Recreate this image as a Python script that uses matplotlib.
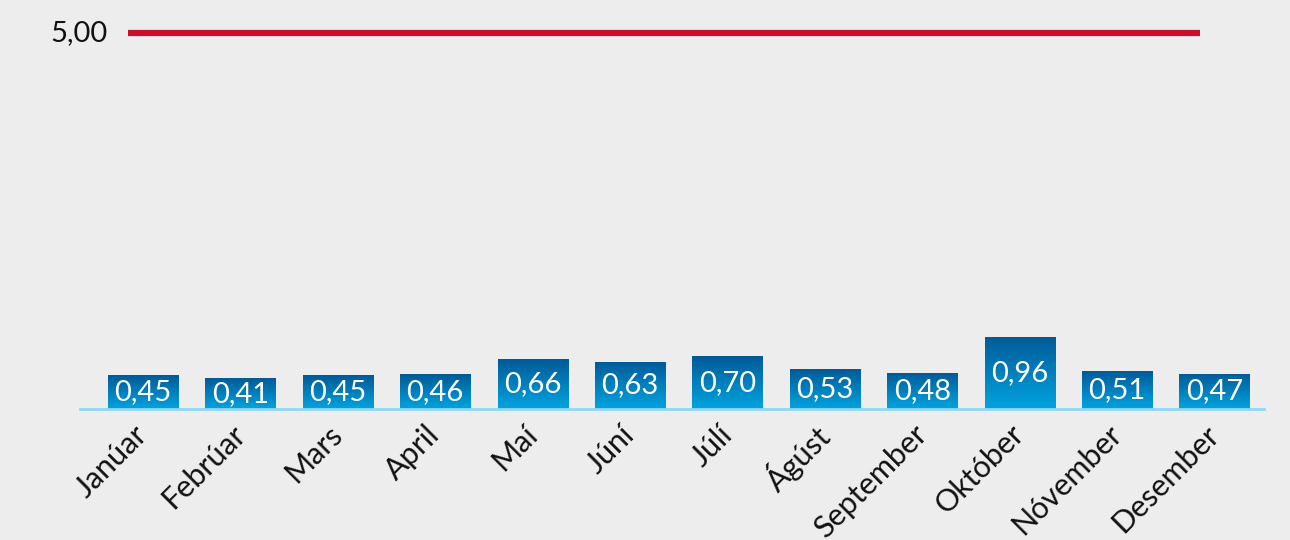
import matplotlib
matplotlib.use("Agg")
import matplotlib.pyplot as plt
import numpy as np
from matplotlib.colors import LinearSegmentedColormap

months = ["Janúar", "Febrúar", "Mars", "April", "Maí", "Júní", "Júlí",
          "Ágúst", "September", "Október", "Nóvember", "Desember"]
values = [0.45, 0.41, 0.45, 0.46, 0.66, 0.63, 0.70, 0.53, 0.48, 0.96, 0.51, 0.47]
limit = 5.00

plt.rcParams['font.family'] = ['Lato', 'DejaVu Sans']
BG = "#ededed"

fig = plt.figure(figsize=(12.9, 5.4), dpi=100, facecolor=BG)
W, H = 1290, 540
ax = fig.add_axes([80 / W, (540 - 409) / H, (1264 - 80) / W, (409 - 33) / H])
ax.set_facecolor(BG)

x = np.arange(len(months))
bars = ax.bar(x, values, width=0.72, color="none", edgecolor="none", zorder=2)

cmap = LinearSegmentedColormap.from_list("g", ["#00a4e0", "#005a97"])
grad = np.linspace(0, 1, 256).reshape(-1, 1)
for b, v in zip(bars, values):
    x0 = b.get_x()
    w = b.get_width()
    im = ax.imshow(grad, cmap=cmap, origin="lower", aspect="auto",
                   extent=[x0, x0 + w, 0, v], zorder=2)
    im.set_clip_path(b)
    ax.text(x0 + w / 2, v / 2, f"{v:.2f}".replace(".", ","), color="white",
            ha="center", va="center", fontsize=21, zorder=3)

ax.set_xlim(-0.647, 11.508)
ax.set_ylim(0, limit)

# limit line
ax.plot([-0.154, 10.85], [limit, limit], color="#c8102e", lw=4.5,
        solid_capstyle="butt", clip_on=False, zorder=3)
ax.text(-0.36, limit, f"{limit:.2f}".replace(".", ","), ha="right", va="center",
        fontsize=21, color="#111111")

for s in ["top", "right", "left"]:
    ax.spines[s].set_visible(False)
ax.spines["bottom"].set_color("#8fd8f5")
ax.spines["bottom"].set_linewidth(2)
ax.set_yticks([])
ax.set_xticks(x)
ax.set_xticklabels(months, rotation=45, ha="right", va="center",
                   rotation_mode="anchor", fontsize=22, color="#111111")
ax.tick_params(axis="x", length=0, pad=15)

fig.savefig("out.png", dpi=100, facecolor=BG)
